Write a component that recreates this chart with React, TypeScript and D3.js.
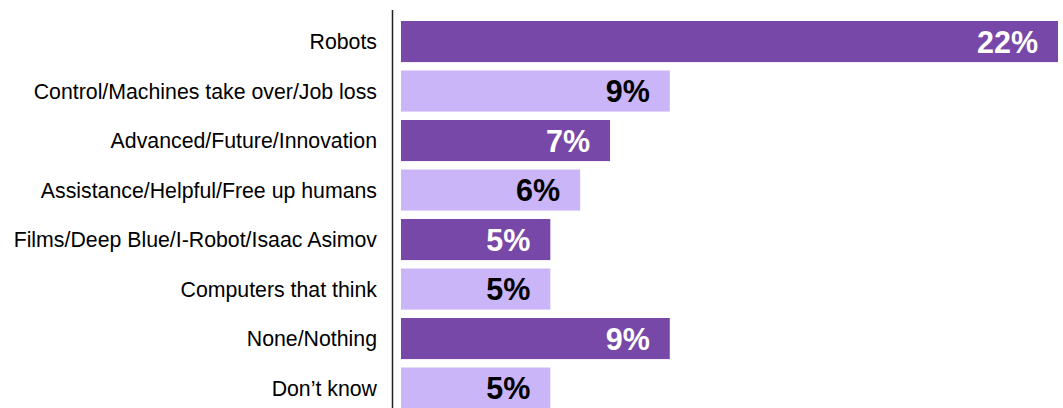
import React from "react";
import * as d3 from "d3";

const categories = [
  "Robots",
  "Control/Machines take over/Job loss",
  "Advanced/Future/Innovation",
  "Assistance/Helpful/Free up humans",
  "Films/Deep Blue/I-Robot/Isaac Asimov",
  "Computers that think",
  "None/Nothing",
  "Don\u2019t know",
];
const values = [22, 9, 7, 6, 5, 5, 9, 5];
const valueLabels = ["22%", "9%", "7%", "6%", "5%", "5%", "9%", "5%"];

const W = 1063;
const H = 408;
const DARK = "#7748A7";
const LIGHT = "#C9B5F8";

export default function App() {
  const x = d3.scaleLinear().domain([0, 22]).range([401, 1058]);
  const y = d3
    .scaleBand<string>()
    .domain(categories)
    .range([16.8, 16.8 + 49.5 * 8])
    .paddingInner(0.17)
    .paddingOuter(0.085);
  const font = "Liberation Sans, Arial, sans-serif";
  return (
    <svg
      width={W}
      height={H}
      style={{ position: "absolute", left: 0, top: 0, display: "block", background: "#fff" }}
    >
      {categories.map((c, i) => {
        const y0 = y(c)!;
        const bw = y.bandwidth();
        const dark = i % 2 === 0;
        return (
          <g key={c}>
            <rect
              x={x(0)}
              y={y0}
              width={x(values[i]) - x(0)}
              height={bw}
              fill={dark ? DARK : LIGHT}
            />
            <text
              x={x(values[i]) - 20}
              y={y0 + bw / 2}
              dy="0.36em"
              textAnchor="end"
              fontFamily={font}
              fontWeight="bold"
              fontSize={30.5}
              fill={dark ? "#fff" : "#000"}
            >
              {valueLabels[i]}
            </text>
            <text
              x={377}
              y={y0 + bw / 2}
              dy="0.35em"
              textAnchor="end"
              fontFamily={font}
              fontSize={21.3}
              fill="#000"
            >
              {c}
            </text>
          </g>
        );
      })}
      <line x1={392.5} x2={392.5} y1={10} y2={H} stroke="#222" strokeWidth={1.5} />
    </svg>
  );
}
